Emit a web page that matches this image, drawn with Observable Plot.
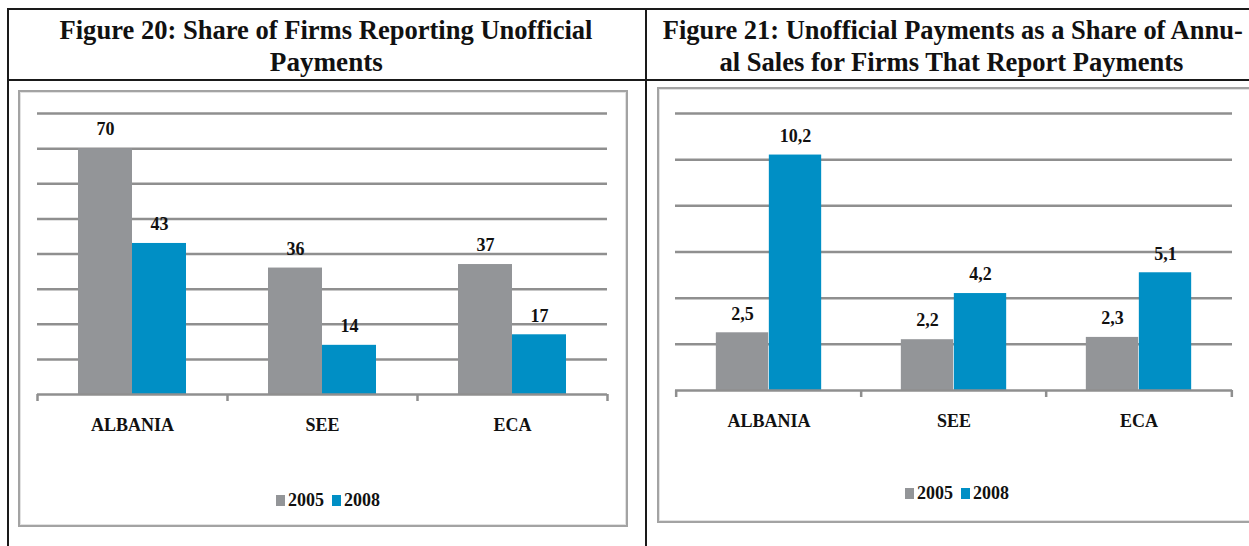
<!DOCTYPE html>
<html>
<head>
<meta charset="utf-8">
<script src="https://cdn.jsdelivr.net/npm/d3@7"></script>
<script src="https://cdn.jsdelivr.net/npm/@observablehq/plot@0.6"></script>
<style>
  html, body { margin: 0; padding: 0; background: #fff; }
  body { width: 1249px; height: 546px; position: relative; overflow: hidden; font-family: "Liberation Serif", "Times New Roman", serif; }
  .line { position: absolute; background: #1a1a1a; }
  .title { position: absolute; font-weight: bold; font-size: 28px; line-height: 32px; text-align: center; color: #111; white-space: nowrap; }
  .title span { display: inline-block; transform-origin: center; }
  .box { position: absolute; border: 2px solid #a3a3a3; box-shadow: inset 0 0 0 1px #e2e2e2; box-sizing: border-box; }
  .plot { position: absolute; }
  .plot svg { max-width: none !important; }
  .legend { position: absolute; font-weight: bold; font-size: 18px; color: #111; white-space: nowrap; transform: translateX(-50%); }
  .sw { display: inline-block; width: 9px; height: 11px; margin-right: 3px; vertical-align: 0px; }
  .gap { display: inline-block; width: 8px; }
</style>
</head>
<body>
<div class="line" style="left:7px;top:8px;width:1242px;height:1.5px"></div>
<div class="line" style="left:7px;top:79px;width:1242px;height:1.5px"></div>
<div class="line" style="left:7px;top:8px;width:1.5px;height:538px"></div>
<div class="line" style="left:645px;top:8px;width:1.5px;height:538px"></div>

<div class="title" id="t1" style="left:7px;width:638px;top:14px"></div>
<div class="title" id="t2" style="left:646px;width:610px;top:14px"></div>

<div class="box" style="left:18px;top:90px;width:610px;height:437px"></div>
<div class="box" style="left:657px;top:87px;width:610px;height:436px"></div>

<div class="plot" id="p1" style="left:17px;top:92px;width:610px;height:360px"></div>
<div class="plot" id="p2" style="left:657px;top:88px;width:600px;height:360px"></div>

<div class="legend" id="l1" style="left:328px;top:490px"></div>
<div class="legend" id="l2" style="left:957px;top:483px"></div>

<script>
// ---- data ----
const categories = ["ALBANIA", "SEE", "ECA"];
const years = ["2005", "2008"];
const fig20_2005 = [70, 36, 37];
const fig20_2008 = [43, 14, 17];
const fig21_2005 = [2.5, 2.2, 2.3];
const fig21_2008 = [10.2, 4.2, 5.1];
const fig20Grid = [10, 20, 30, 40, 50, 60, 70, 80];
const fig21Grid = [2, 4, 6, 8, 10, 12];
const fig20Title = ["Figure 20: Share of Firms Reporting Unofficial", "Payments"];
const fig21Title = ["Figure 21: Unofficial Payments as a Share of Annu-", "al Sales for Firms That Report Payments"];
const yearColors = ["#939598", "#008fc5"];

const GRID = "#8f8f8f";
const FONT = "Liberation Serif, Times New Roman, serif";

function rows(v2005, v2008) {
  const out = [];
  categories.forEach((c, i) => {
    out.push({category: c, year: years[0], value: v2005[i]});
    out.push({category: c, year: years[1], value: v2008[i]});
  });
  return out;
}

function fmt(v) { return Number.isInteger(v) ? String(v) : String(v).replace(".", ","); }

function chart({data, grid, ymax, width, height, ml, mr, mt, mb, barW}) {
  const bw = (width - ml - mr) / categories.length;
  const pad = (bw - 2 * barW) / 2;
  const d05 = data.filter(d => d.year === years[0]);
  const d08 = data.filter(d => d.year === years[1]);
  return Plot.plot({
    width, height,
    marginLeft: ml, marginRight: mr, marginTop: mt, marginBottom: mb,
    style: {background: "transparent", fontFamily: FONT, overflow: "visible", maxWidth: "none"},
    x: {domain: categories, padding: 0, axis: null},
    y: {domain: [0, ymax], axis: null},
    marks: [
      Plot.ruleY(grid, {stroke: GRID, strokeWidth: 2.5}),
      Plot.barY(d05, {x: "category", y: "value", fill: yearColors[0], insetLeft: pad, insetRight: bw - pad - barW}),
      Plot.barY(d08, {x: "category", y: "value", fill: yearColors[1], insetLeft: pad + barW, insetRight: pad}),
      Plot.ruleY([0], {stroke: GRID, strokeWidth: 2.5}),
      Plot.ruleX(categories, {x: d => d, y1: 0, y2: 0, dx: -bw / 2, insetBottom: -7, stroke: GRID, strokeWidth: 2.5}),
      Plot.ruleX(categories.slice(-1), {x: d => d, y1: 0, y2: 0, dx: bw / 2, insetBottom: -7, stroke: GRID, strokeWidth: 2.5}),
      Plot.text(d05, {x: "category", y: "value", text: d => fmt(d.value), dx: -barW / 2, dy: -19, fontSize: 18, fontWeight: "bold", fill: "#111"}),
      Plot.text(d08, {x: "category", y: "value", text: d => fmt(d.value), dx: barW / 2, dy: -19, fontSize: 18, fontWeight: "bold", fill: "#111"}),
      Plot.axisX({domain: categories, tickSize: 0, tickPadding: 24, fontSize: 18, fontWeight: "bold", fill: "#111", label: null})
    ]
  });
}

document.getElementById("p1").appendChild(chart({
  data: rows(fig20_2005, fig20_2008), grid: fig20Grid, ymax: 80,
  width: 610, height: 360, ml: 20, mr: 20, mt: 21, mb: 58, barW: 54
}));
document.getElementById("p2").appendChild(chart({
  data: rows(fig21_2005, fig21_2008), grid: fig21Grid, ymax: 12,
  width: 600, height: 360, ml: 18, mr: 25, mt: 25, mb: 58, barW: 53
}));

function legend(el) {
  el.innerHTML = years.map((y, i) =>
    `<span class="sw" style="background:${yearColors[i]}"></span>${y}`).join('<span class="gap"></span>');
}
legend(document.getElementById("l1"));
legend(document.getElementById("l2"));

function title(el, lines, widths) {
  el.innerHTML = lines.map(l => `<span>${l}</span>`).join("<br>");
  const spans = el.querySelectorAll("span");
  spans.forEach((s, i) => {
    const w = s.getBoundingClientRect().width;
    s.style.transform = `scaleX(${widths[i] / w})`;
  });
}
title(document.getElementById("t1"), fig20Title, [533, 113]);
title(document.getElementById("t2"), fig21Title, [580, 464]);
</script>
</body>
</html>
